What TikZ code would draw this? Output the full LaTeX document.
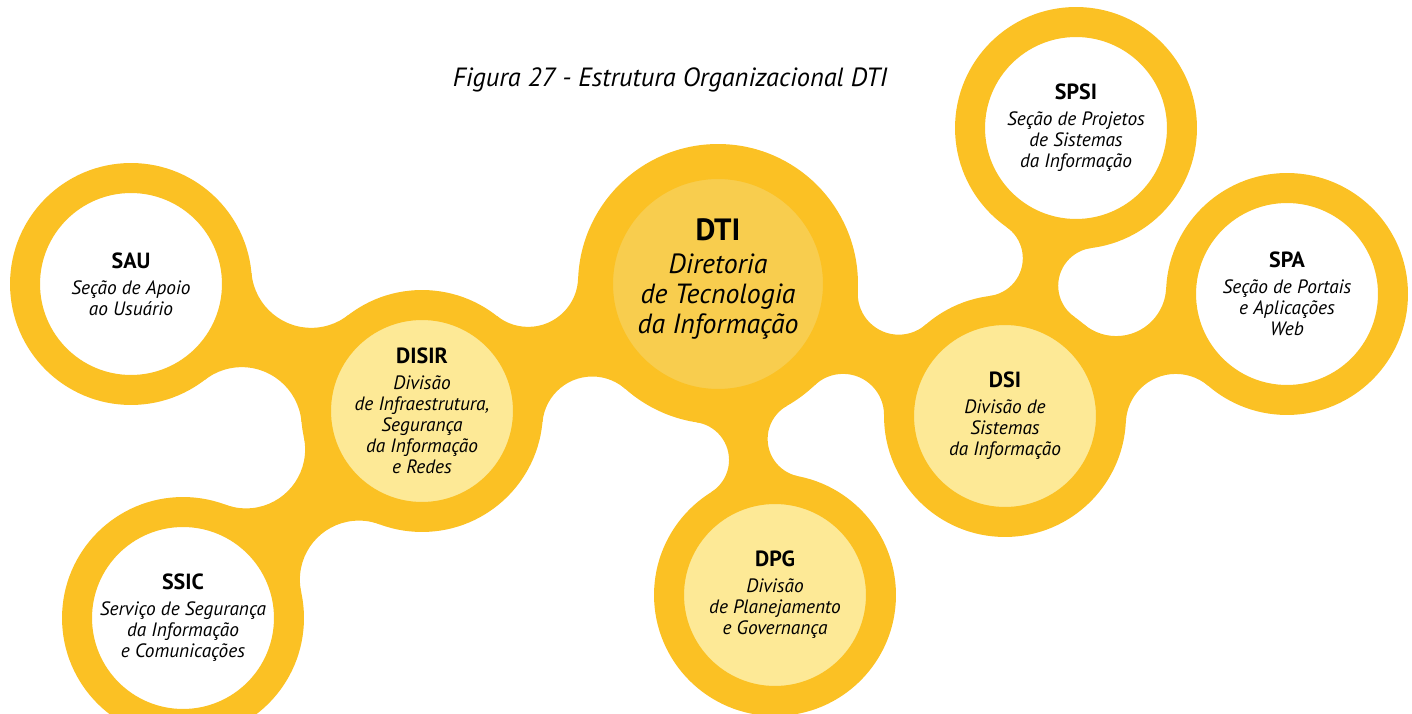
\documentclass[tikz,border=0pt]{standalone}
\usepackage{fontspec}
\setmainfont{PT Sans}
\usetikzlibrary{intersections,backgrounds}
\definecolor{anel}{HTML}{FBC124}
\definecolor{centro}{HTML}{F8CD4E}
\definecolor{divisao}{HTML}{FDE996}
\newcommand{\sigla}[1]{{\fontsize{12.5}{14}\selectfont\upshape\bfseries #1}\\[2.6pt]}
\newcommand{\siglagrande}[1]{{\fontsize{17.5}{18}\selectfont\upshape\bfseries #1}\\[2pt]}
\newcommand{\ligar}[5]{%
  \path[name path=ca] (#1.center) circle[radius=#3+#5];
  \path[name path=cb] (#2.center) circle[radius=#4+#5];
  \path[name intersections={of=ca and cb, by={fa,fb}}];
  \begin{scope}[even odd rule]
    \clip (-50,-50) rectangle (1462,763)
      (fa) circle[radius=#5] (fb) circle[radius=#5];
    \fill[anel] (#1.center) -- (fa) -- (#2.center) -- (fb) -- cycle;
  \end{scope}}
\tikzset{
  secao/.style={shape=circle, draw=anel, line width=0.6cm, fill=white, inner sep=0pt,
    minimum size=4.24cm, align=center, font=\fontsize{11}{12}\selectfont\itshape},
  divisao/.style={secao, fill=divisao},
  diretoria/.style={secao, fill=centro, line width=0.7cm, minimum size=4.9cm,
    text depth=9pt, font=\fontsize{15.8}{17}\selectfont\itshape}
}
\begin{document}
\begin{tikzpicture}[x=0.02cm, y=0.02cm]
\useasboundingbox (0,0) rectangle (1412,713);
\node[font=\fontsize{15}{18}\selectfont\itshape, anchor=base] (titulo) at (670,626) {Figura 27 - Estrutura Organizacional DTI};

\node[diretoria] (DTI) at (718,429) {\siglagrande{DTI}Diretoria\\de Tecnologia\\da Informação};
\node[secao] (SAU) at (131,429) {\sigla{SAU}Seção de Apoio\\ao Usuário};
\node[divisao] (DISIR) at (422,302) {\sigla{DISIR}Divisão\\de Infraestrutura,\\Segurança\\da Informação\\e Redes};
\node[secao] (SSIC) at (183,95) {\sigla{SSIC}Serviço de Segurança\\da Informação\\e Comunicações};
\node[divisao] (DPG) at (775,118) {\sigla{DPG}Divisão\\de Planejamento\\e Governança};
\node[divisao] (DSI) at (1005,297) {\sigla{DSI}Divisão de\\Sistemas\\da Informação};
\node[secao] (SPSI) at (1076,585) {\sigla{SPSI}Seção de Projetos\\de Sistemas\\da Informação};
\node[secao] (SPA) at (1287,419) {\sigla{SPA}Seção de Portais\\e Aplicações\\Web};

\begin{scope}[on background layer]
\ligar{SAU}{DISIR}{121}{121}{60}
\ligar{DISIR}{SSIC}{121}{121}{59}
\ligar{DISIR}{DTI}{121}{140}{50}
\ligar{DTI}{DPG}{140}{121}{38}
\ligar{DTI}{DSI}{140}{121}{41}
\ligar{DSI}{SPSI}{121}{121}{38}
\ligar{DSI}{SPA}{121}{121}{50}
\end{scope}
\end{tikzpicture}
\end{document}
